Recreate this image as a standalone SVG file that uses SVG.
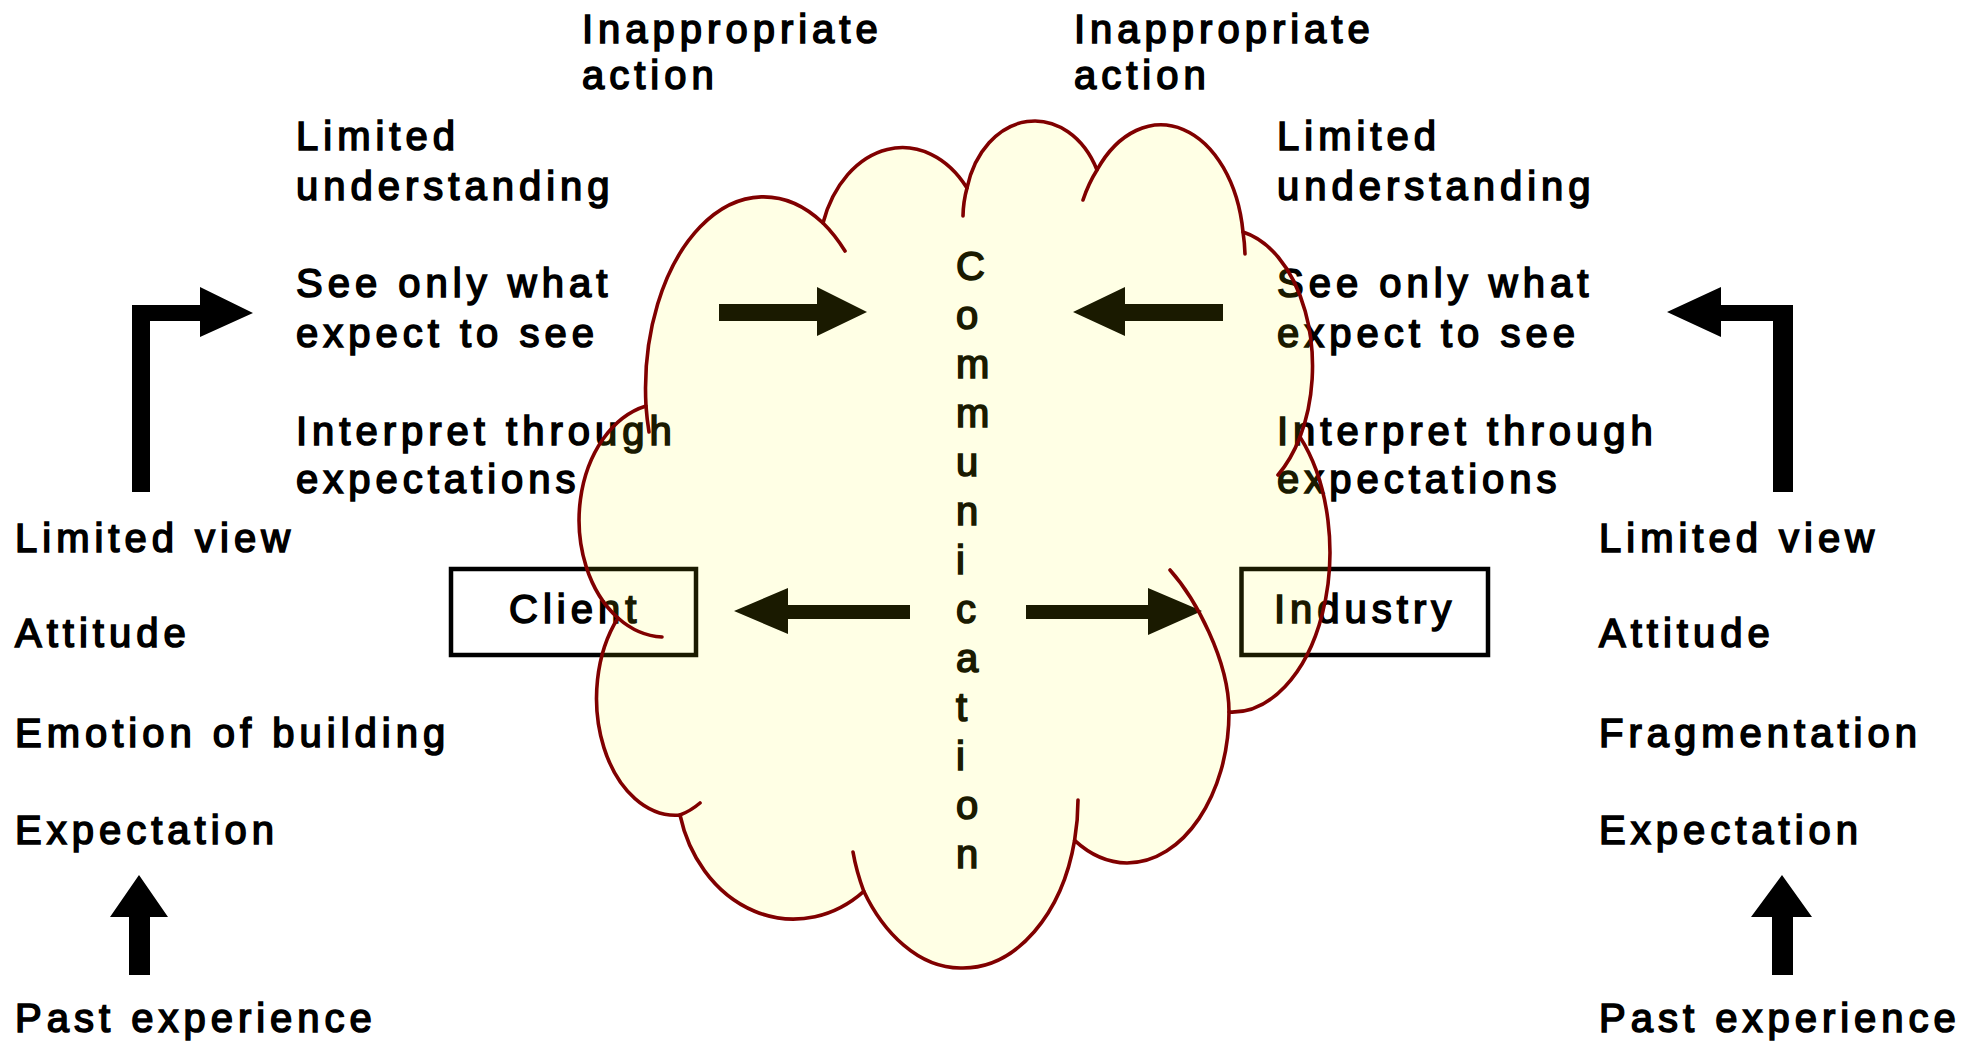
<svg xmlns="http://www.w3.org/2000/svg" width="1988" height="1045" viewBox="0 0 1988 1045">
<style>
.t{font-family:"Liberation Sans",Arial,sans-serif;font-size:40px;letter-spacing:5px;fill:#000;stroke:#000;stroke-width:1.6px}
.c{font-family:"Liberation Sans",Arial,sans-serif;font-size:40px;fill:#000;stroke:#000;stroke-width:1.6px}
.arrow{fill:#000}
.box{fill:none;stroke:#000;stroke-width:4.5}
.cloud{fill:#ffff00;fill-opacity:0.1;stroke:#800000;stroke-width:3.6;stroke-linejoin:round}
.hook{fill:none;stroke:#800000;stroke-width:3.6;stroke-linecap:round}
</style>
<rect width="1988" height="1045" fill="#ffffff"/>

<g id="client-labels">
<text class="t" x="582" y="43">Inappropriate</text>
<text class="t" x="582" y="89">action</text>
<text class="t" x="296" y="150">Limited</text>
<text class="t" x="296" y="200">understanding</text>
<text class="t" x="296" y="297">See only what</text>
<text class="t" x="296" y="347">expect to see</text>
<text class="t" x="296" y="445">Interpret through</text>
<text class="t" x="296" y="493">expectations</text>
<text class="t" x="15" y="552">Limited view</text>
<text class="t" x="15" y="647">Attitude</text>
<text class="t" x="15" y="747">Emotion of building</text>
<text class="t" x="15" y="844">Expectation</text>
<text class="t" x="15" y="1032">Past experience</text>
</g>

<g id="industry-labels">
<text class="t" x="1074" y="43">Inappropriate</text>
<text class="t" x="1074" y="89">action</text>
<text class="t" x="1277" y="150">Limited</text>
<text class="t" x="1277" y="200">understanding</text>
<text class="t" x="1277" y="297">See only what</text>
<text class="t" x="1277" y="347">expect to see</text>
<text class="t" x="1277" y="445">Interpret through</text>
<text class="t" x="1277" y="493">expectations</text>
<text class="t" x="1599" y="552">Limited view</text>
<text class="t" x="1599" y="647">Attitude</text>
<text class="t" x="1599" y="747">Fragmentation</text>
<text class="t" x="1599" y="844">Expectation</text>
<text class="t" x="1599" y="1032">Past experience</text>
</g>

<g id="client">
<rect class="box" x="451" y="569" width="245" height="86"/>
<text class="t" x="509" y="623">Client</text>
</g>

<g id="industry">
<rect class="box" x="1241.5" y="569" width="246.5" height="86"/>
<text class="t" x="1274" y="623">Industry</text>
</g>

<g id="connectors">
<polygon class="arrow" points="132,492 132,305 200,305 200,287 253,313 200,337 200,321 150,321 150,492"/>
<polygon class="arrow" points="1793,492 1793,305 1721,305 1721,287 1667,312 1721,337 1721,321 1773,321 1773,492"/>
<polygon class="arrow" points="719,304 817,304 817,287 867,312 817,336 817,321 719,321"/>
<polygon class="arrow" points="1223,304 1125,304 1125,287 1073,312 1125,336 1125,321 1223,321"/>
<polygon class="arrow" points="910,605 788,605 788,588 734,611 788,634 788,619 910,619"/>
<polygon class="arrow" points="1026,605 1148,605 1148,588 1202,611 1148,635 1148,619 1026,619"/>
<polygon class="arrow" points="129,975 129,917 110,917 139,875 168,917 150,917 150,975"/>
<polygon class="arrow" points="1772,975 1772,917 1751,917 1782,875 1812,917 1793,917 1793,975"/>
</g>

<g id="cloud">
<text class="c" x="956" y="280">C</text>
<text class="c" x="956" y="329">o</text>
<text class="c" x="956" y="378">m</text>
<text class="c" x="956" y="427">m</text>
<text class="c" x="956" y="476">u</text>
<text class="c" x="956" y="525">n</text>
<text class="c" x="956" y="574">i</text>
<text class="c" x="956" y="623">c</text>
<text class="c" x="956" y="672">a</text>
<text class="c" x="956" y="721">t</text>
<text class="c" x="956" y="770">i</text>
<text class="c" x="956" y="819">o</text>
<text class="c" x="956" y="868">n</text>
<path class="cloud" d="M646,406 A118,192 0 0 1 823,223 A84,112 0 0 1 967,188 A70,90 0 0 1 1097,170 A83,125 0 0 1 1243,232 A87,137 0 0 1 1300,437 A98,160 0 0 1 1229,712 C1229,795 1183,863 1127,863 A101,151 0 0 1 1074.6,840.4 C1062.2,913.8 1016.6,968 963,968 C918.3,969.5 882.6,931.3 863.8,891.3 A117,138 0 0 1 680,815 A79,117 0 0 1 618,618 A86,117 0 0 1 646,406 Z"/>
<path class="hook" d="M646,406 A118,192 0 0 0 649,432 M823,223 A118,192 0 0 1 845,251 M967,188 A70,90 0 0 0 963,216 M1097,170 A83,125 0 0 0 1083,200 M1243,232 A83,125 0 0 1 1245,254 M1300,437 A87,137 0 0 1 1278,475 M1170,570 C1195,598 1229,660 1229,712 M1078,800 C1078,814 1076.8,827.5 1074.6,840.4 M863.8,891.3 C858.9,878 855.1,864.2 853,852 M680,815 A79,117 0 0 0 700,803 M618,618 A86,117 0 0 0 662,637"/>
</g>
</svg>
